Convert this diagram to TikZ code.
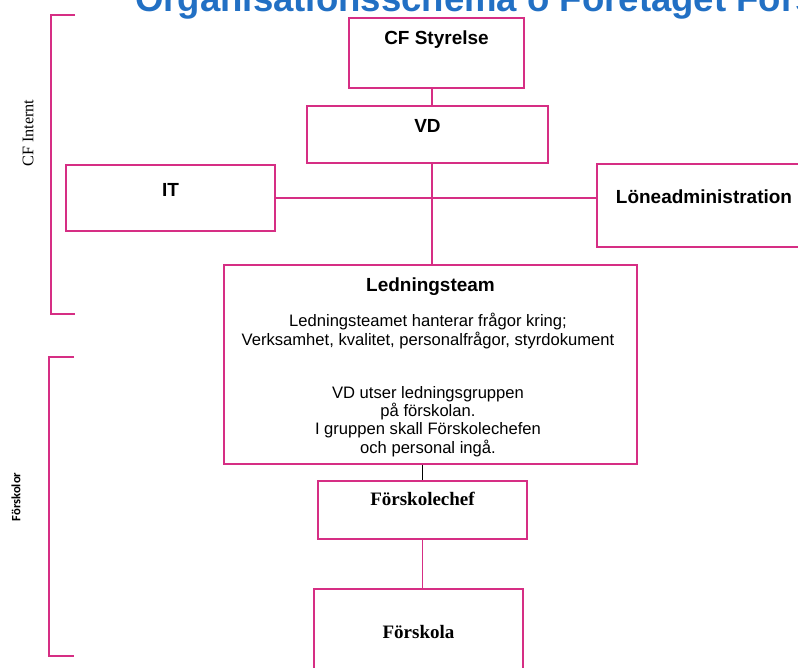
\documentclass[tikz,border=0pt]{standalone}
\usepackage{fontspec}
\usepackage{tikz}
\usetikzlibrary{calc}
\usetikzlibrary{positioning}

\newfontfamily\arialfont{Liberation Sans}
\newfontfamily\timesfont{Liberation Serif}
\newfontfamily\calibrifont{Carlito}

\definecolor{cfpink}{RGB}{214,46,132}
\definecolor{cfblue}{RGB}{34,112,196}

\begin{document}
\begin{tikzpicture}[%
  x=0.025cm, y=-0.025cm,
  box/.style={draw=cfpink, line width=0.8pt, inner sep=0pt, anchor=base,
    font=\arialfont\bfseries\fontsize{13.5}{16}\selectfont},
  serifbox/.style={box, font=\timesfont\bfseries\fontsize{13.5}{16}\selectfont},
  bodytext/.style={anchor=base, align=center, inner sep=0pt,
    font=\arialfont\fontsize{11.8}{13}\selectfont},
  link/.style={draw=cfpink, line width=0.8pt},
  sidelabel/.style={rotate=90, inner sep=0pt},
]

  \useasboundingbox (0,0) rectangle (798,667);
  \clip (0,0) rectangle (798,667);

  \node[anchor=base west, inner sep=0pt, text=cfblue,
    font=\arialfont\bfseries\fontsize{26}{30}\selectfont] (title) at (135,11)
    {Organisationsschema ö Företaget Förskola};

  \coordinate (axis) at (432,0);

  \node[box, minimum width=4.375cm, text height=0.65cm, text depth=1.1cm] (styrelse) at (436.5,44) {CF Styrelse};
  \node[box, minimum width=6.025cm, text height=0.65cm, text depth=0.775cm] (vd) at (427.5,132) {VD};
  \node[box, minimum width=5.225cm, text height=0.775cm, text depth=0.875cm] (it) at (170.5,196) {IT};
  \node[box, minimum width=5.35cm, text height=0.975cm, text depth=1.1cm] (lon) at (704,203) {Löneadministration};
  \node[box, minimum width=10.325cm, text height=0.65cm, text depth=4.325cm] (led) at (430.5,291) {Ledningsteam};
  \node[serifbox, minimum width=5.225cm, text height=0.6cm, text depth=0.85cm] (chef) at (422.5,505) {Förskolechef};
  \node[serifbox, minimum width=5.225cm, text height=1.225cm, text depth=1.55cm] (skola) at (418.5,638) {Förskola};

  \node[bodytext] (ledtext) at (428,345)
    {Ledningsteamet hanterar frågor kring;\\Verksamhet, kvalitet, personalfrågor, styrdokument};
  \node[bodytext] (ledgrupp) at (428,453)
    {VD utser ledningsgruppen\\på förskolan.\\I gruppen skall Förskolechefen\\och personal ingå.};

  \draw[link] (styrelse.south -| axis) -- (vd.north -| axis);
  \draw[link] (vd.south -| axis) -- (led.north -| axis);
  \draw[link] (it.east) -- (it.east -| lon.west);
  \draw[line width=0.8pt] (led.south -| chef.north) -- (chef.north);
  \draw[link] (chef.south) -- (chef.south |- skola.north);

  \draw[link] (75,15) -- (51,15) -- (51,314) -- (75,314);
  \node[sidelabel, font=\timesfont\fontsize{11.5}{13}\selectfont] (cfinternt) at (28,133) {CF Internt};
  \draw[link] (74,357) -- (49,357) -- (49,656) -- (74,656);
  \node[sidelabel, font=\calibrifont\bfseries\fontsize{9}{11}\selectfont] (forskolor) at (16,497) {Förskolor};

\end{tikzpicture}
\end{document}
